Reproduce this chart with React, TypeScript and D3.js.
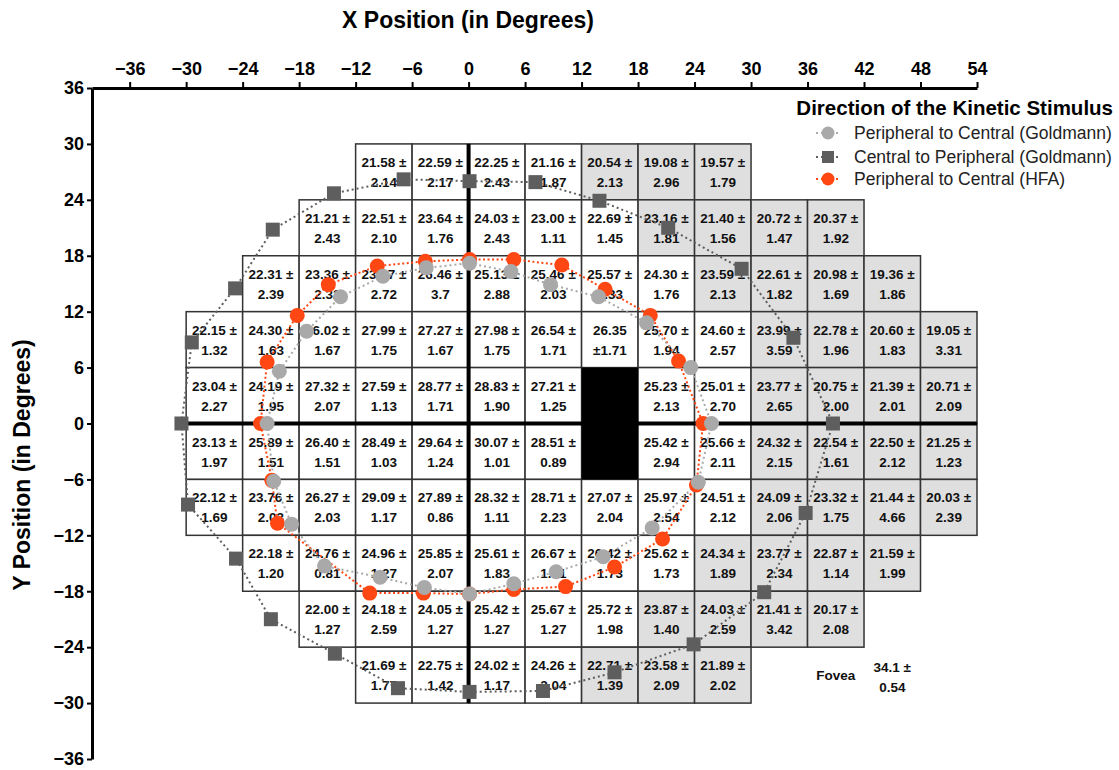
import React, { useEffect, useRef } from "react";
import * as d3 from "d3";

const W = 1119;
const H = 770;

const xTicks = [-36, -30, -24, -18, -12, -6, 0, 6, 12, 18, 24, 30, 36, 42, 48, 54];
const yTicks = [-36, -30, -24, -18, -12, -6, 0, 6, 12, 18, 24, 30, 36];

// Grid rows: top edge (deg), first column left edge (deg), first shaded column
const rowTops = [30, 24, 18, 12, 6, 0, -6, -12, -18, -24];
const rowStarts = [-12, -18, -24, -30, -30, -30, -30, -24, -18, -12];
const rowShadeFrom = [12, 18, 24, 30, 30, 30, 30, 24, 18, 12];

const means: (string | null)[][] = [
  ["21.58", "22.59", "22.25", "21.16", "20.54", "19.08", "19.57"],
  ["21.21", "22.51", "23.64", "24.03", "23.00", "22.69", "23.16", "21.40", "20.72", "20.37"],
  ["22.31", "23.36", "23.97", "26.46", "25.13", "25.46", "25.57", "24.30", "23.59", "22.61", "20.98", "19.36"],
  ["22.15", "24.30", "26.02", "27.99", "27.27", "27.98", "26.54", "26.35", "25.70", "24.60", "23.99", "22.78", "20.60", "19.05"],
  ["23.04", "24.19", "27.32", "27.59", "28.77", "28.83", "27.21", null, "25.23", "25.01", "23.77", "20.75", "21.39", "20.71"],
  ["23.13", "25.89", "26.40", "28.49", "29.64", "30.07", "28.51", null, "25.42", "25.66", "24.32", "22.54", "22.50", "21.25"],
  ["22.12", "23.76", "26.27", "29.09", "27.89", "28.32", "28.71", "27.07", "25.97", "24.51", "24.09", "23.32", "21.44", "20.03"],
  ["22.18", "24.76", "24.96", "25.85", "25.61", "26.67", "26.42", "25.62", "24.34", "23.77", "22.87", "21.59"],
  ["22.00", "24.18", "24.05", "25.42", "25.67", "25.72", "23.87", "24.03", "21.41", "20.17"],
  ["21.69", "22.75", "24.02", "24.26", "22.71", "23.58", "21.89"],
];

const sds: (string | null)[][] = [
  ["2.14", "2.17", "2.43", "1.87", "2.13", "2.96", "1.79"],
  ["2.43", "2.10", "1.76", "2.43", "1.11", "1.45", "1.81", "1.56", "1.47", "1.92"],
  ["2.39", "2.32", "2.72", "3.7", "2.88", "2.03", "2.33", "1.76", "2.13", "1.82", "1.69", "1.86"],
  ["1.32", "1.63", "1.67", "1.75", "1.67", "1.75", "1.71", "±1.71", "1.94", "2.57", "3.59", "1.96", "1.83", "3.31"],
  ["2.27", "1.95", "2.07", "1.13", "1.71", "1.90", "1.25", null, "2.13", "2.70", "2.65", "2.00", "2.01", "2.09"],
  ["1.97", "1.51", "1.51", "1.03", "1.24", "1.01", "0.89", null, "2.94", "2.11", "2.15", "1.61", "2.12", "1.23"],
  ["1.69", "2.03", "2.03", "1.17", "0.86", "1.11", "2.23", "2.04", "2.54", "2.12", "2.06", "1.75", "4.66", "2.39"],
  ["1.20", "0.81", "1.27", "2.07", "1.83", "1.61", "1.73", "1.73", "1.89", "2.34", "1.14", "1.99"],
  ["1.27", "2.59", "1.27", "1.27", "1.27", "1.98", "1.40", "2.59", "3.42", "2.08"],
  ["1.77", "1.42", "1.17", "2.04", "1.39", "2.09", "2.02"],
];

const blindSpot = { x0: 12, x1: 18, y0: -6, y1: 6 };
const foveaLabel = "Fovea";
const foveaMean = "34.1";
const foveaSd = "0.54";

// Peripheral to Central (Goldmann) - light gray circles
const p2cGoldmann: [number, number][] = [
  [-21.4, 0], [-20.1, 5.6], [-17.2, 9.9], [-13.6, 13.6], [-9.1, 15.8], [-4.5, 16.7],
  [0.1, 17.2], [4.5, 16.3], [8.7, 14.9], [13.8, 13.6], [18.9, 10.8], [23.6, 6.0],
  [25.8, 0], [24.4, -6.3], [19.5, -11.2], [14.3, -14.3], [9.3, -15.9], [4.8, -17.2],
  [0.1, -18.3], [-4.7, -17.6], [-9.4, -16.5], [-15.3, -15.3], [-18.8, -10.8], [-20.7, -6.2],
];

// Central to Peripheral (Goldmann) - dark gray squares
const c2pGoldmann: [number, number][] = [
  [-30.5, 0], [-29.4, 8.7], [-24.8, 14.5], [-20.8, 20.8], [-14.3, 24.7], [-6.9, 26.2],
  [0.1, 26.0], [7.1, 25.9], [13.9, 23.9], [21.2, 21.0], [29.0, 16.6], [34.5, 9.2],
  [38.7, 0], [35.8, -9.6], [31.4, -18.1], [23.9, -23.7], [15.5, -26.7], [7.9, -28.7],
  [0.1, -28.8], [-7.5, -28.4], [-14.2, -24.7], [-21.0, -21.0], [-24.7, -14.5], [-29.8, -8.7],
];

// Peripheral to Central (HFA) - orange circles
const p2cHFA: [number, number][] = [
  [-22.1, 0], [-21.4, 6.6], [-18.2, 11.6], [-14.9, 14.9], [-9.7, 16.9], [-4.6, 17.4],
  [0.1, 17.6], [4.8, 17.6], [9.9, 17.0], [14.5, 14.4], [19.3, 11.6], [22.3, 6.7],
  [24.9, 0], [24.2, -6.6], [20.6, -12.4], [15.5, -15.4], [10.3, -17.5], [4.8, -17.8],
  [0.1, -18.3], [-4.8, -18.2], [-10.5, -18.2], [-20.3, -10.7], [-20.9, -6.1],
];

const legendTitle = "Direction of the Kinetic Stimulus";
const legendItems = [
  "Peripheral to Central (Goldmann)",
  "Central to Peripheral (Goldmann)",
  "Peripheral to Central (HFA)",
];

const COL_LIGHT = "#a9a9a9";
const COL_DARK = "#5e5e5e";
const COL_ORANGE = "#ff4713";
const FONT = "'Liberation Sans', Arial, sans-serif";

const x = d3.scaleLinear().domain([-40, 54]).range([92, 977]);
const y = d3.scaleLinear().domain([-36, 36]).range([759, 88]);
const CELL = 6;

export default function App() {
  const xAxisRef = useRef<SVGGElement>(null);
  const yAxisRef = useRef<SVGGElement>(null);

  useEffect(() => {
    const styleAxis = (g: d3.Selection<SVGGElement, unknown, null, undefined>) => {
      g.select(".domain").attr("stroke", "#000").attr("stroke-width", 3);
      g.selectAll(".tick line").attr("stroke", "#000").attr("stroke-width", 2);
      g.selectAll(".tick text")
        .attr("fill", "#000")
        .style("font-family", FONT)
        .style("font-weight", "bold")
        .style("font-size", "18px");
    };
    if (xAxisRef.current) {
      const g = d3.select(xAxisRef.current);
      g.call(
        d3.axisTop(x).tickValues(xTicks).tickSize(6).tickSizeOuter(0).tickPadding(7).tickFormat(d3.format("d"))
      );
      styleAxis(g);
    }
    if (yAxisRef.current) {
      const g = d3.select(yAxisRef.current);
      g.call(
        d3.axisLeft(y).tickValues(yTicks).tickSize(5).tickSizeOuter(0).tickPadding(3).tickFormat(d3.format("d"))
      );
      styleAxis(g);
    }
  }, []);

  const cw = x(CELL) - x(0);
  const ch = y(0) - y(CELL);

  const cells: JSX.Element[] = [];
  means.forEach((row, ri) => {
    row.forEach((m, ci) => {
      if (m === null) return;
      const cx0 = rowStarts[ri] + ci * CELL;
      const top = rowTops[ri];
      const px = x(cx0);
      const py = y(top);
      const shaded = cx0 >= rowShadeFrom[ri];
      const sd = sds[ri][ci] as string;
      const line1 = sd.startsWith("±") ? m : `${m} ±`;
      cells.push(
        <g key={`c${ri}-${ci}`}>
          <rect x={px} y={py} width={cw} height={ch} fill={shaded ? "#dfdfdf" : "#fff"} stroke="#333" strokeWidth={1.5} />
          <text x={px + cw / 2} y={py + 23} textAnchor="middle">{line1}</text>
          <text x={px + cw / 2} y={py + 43} textAnchor="middle">{sd}</text>
        </g>
      );
    });
  });

  const lineGen = d3
    .line<[number, number]>()
    .x((d) => x(d[0]))
    .y((d) => y(d[1]))
    .curve(d3.curveLinearClosed);

  const legendX = 828;
  const legendYs = [133, 157, 179];

  return (
    <div style={{ position: "absolute", left: 0, top: 0, width: W, height: H, background: "#fff" }}>
      <svg width={W} height={H} style={{ display: "block" }}>
        <rect x={0} y={0} width={W} height={H} fill="#fff" />
        <g style={{ fontFamily: FONT, fontWeight: "bold", fontSize: "13.5px" }} fill="#111">
          {cells}
          <text x={x(39)} y={y(-24) + 33} textAnchor="middle">{foveaLabel}</text>
          <text x={x(45)} y={y(-24) + 25} textAnchor="middle">{`${foveaMean} ±`}</text>
          <text x={x(45)} y={y(-24) + 45} textAnchor="middle">{foveaSd}</text>
        </g>
        <rect
          x={x(blindSpot.x0)}
          y={y(blindSpot.y1)}
          width={x(blindSpot.x1) - x(blindSpot.x0)}
          height={y(blindSpot.y0) - y(blindSpot.y1)}
          fill="#000"
        />
        <line x1={x(0)} x2={x(0)} y1={y(30)} y2={y(-30)} stroke="#000" strokeWidth={4} />
        <line x1={x(-30)} x2={x(54)} y1={y(0)} y2={y(0)} stroke="#000" strokeWidth={4} />

        <path d={lineGen(c2pGoldmann) || ""} fill="none" stroke={COL_DARK} strokeWidth={2} strokeDasharray="2 3" />
        <path d={lineGen(p2cHFA) || ""} fill="none" stroke={COL_ORANGE} strokeWidth={2} strokeDasharray="2 2.5" />
        <path d={lineGen(p2cGoldmann) || ""} fill="none" stroke={COL_LIGHT} strokeWidth={2} strokeDasharray="2 3" />

        {p2cHFA.map((d, i) => (
          <circle key={`o${i}`} cx={x(d[0])} cy={y(d[1])} r={7.5} fill={COL_ORANGE} />
        ))}
        {p2cGoldmann.map((d, i) => (
          <circle key={`g${i}`} cx={x(d[0])} cy={y(d[1])} r={7.5} fill={COL_LIGHT} />
        ))}
        {c2pGoldmann.map((d, i) => (
          <rect key={`s${i}`} x={x(d[0]) - 7} y={y(d[1]) - 7} width={14} height={14} fill={COL_DARK} />
        ))}

        <g ref={xAxisRef} transform={`translate(0,${y(36)})`} />
        <g ref={yAxisRef} transform={`translate(${x(-40)},0)`} />

        <text x={468} y={28} textAnchor="middle" style={{ fontFamily: FONT, fontWeight: "bold", fontSize: "23px" }}>
          X Position (in Degrees)
        </text>
        <text
          transform={`translate(30,465) rotate(-90)`}
          textAnchor="middle"
          style={{ fontFamily: FONT, fontWeight: "bold", fontSize: "23px" }}
        >
          Y Position (in Degrees)
        </text>

        <g style={{ fontFamily: FONT }}>
          <text x={1113} y={115} textAnchor="end" style={{ fontWeight: "bold", fontSize: "20.5px" }}>
            {legendTitle}
          </text>
          {legendItems.map((t, i) => {
            const ly = legendYs[i];
            const col = i === 0 ? COL_LIGHT : i === 1 ? COL_DARK : COL_ORANGE;
            return (
              <g key={t}>
                <line x1={legendX - 12} x2={legendX + 12} y1={ly} y2={ly} stroke={col} strokeWidth={2} strokeDasharray="2 3" />
                {i === 1 ? (
                  <rect x={legendX - 6} y={ly - 6} width={12} height={12} fill={col} />
                ) : (
                  <circle cx={legendX} cy={ly} r={6.5} fill={col} />
                )}
                <text x={854} y={ly + 6} style={{ fontSize: "17.5px" }} fill="#222">
                  {t}
                </text>
              </g>
            );
          })}
        </g>
      </svg>
    </div>
  );
}
